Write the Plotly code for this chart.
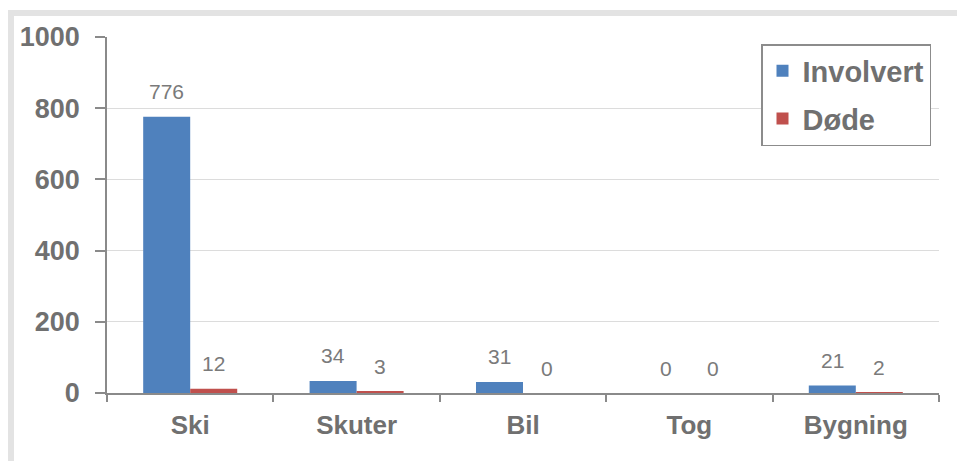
import plotly.graph_objects as go

categories = ["Ski", "Skuter", "Bil", "Tog", "Bygning"]
involvert = [776, 34, 31, 0, 21]
dode = [12, 3, 0, 0, 2]
series_names = ["Involvert", "Døde"]
y_ticks = [0, 200, 400, 600, 800, 1000]

W, H = 957, 461
L, R, T, B = 107, 18, 37, 68
pw, ph = W - L - R, H - T - B

def px_x(p):
    return (p - L) / pw

def px_y(p):
    return (H - B - p) / ph

FONT = "Liberation Sans, Arial, sans-serif"
GRAY = "#707070"
BLUE = "#4F81BD"
RED = "#C0504D"

fig = go.Figure()
fig.add_trace(go.Bar(x=categories, y=involvert, name=series_names[0],
                     marker=dict(color=BLUE, line=dict(width=0)), legendgroup="a"))
fig.add_trace(go.Bar(x=categories, y=dode, name=series_names[1],
                     marker=dict(color=RED, line=dict(width=0)), legendgroup="b"))

annotations = []
for vals, shift in ((involvert, -23.5), (dode, 23.5)):
    for c, v in zip(categories, vals):
        annotations.append(dict(x=c, y=v, xref="x", yref="y", text=str(v),
                                showarrow=False, xshift=shift, yshift=25,
                                yanchor="middle",
                                font=dict(family=FONT, size=21, color="#7a7a7a")))

shapes = [
    dict(type="rect", xref="paper", yref="paper",
         x0=px_x(8), x1=px_x(960), y0=px_y(16), y1=px_y(10),
         fillcolor="#e3e3e3", line=dict(width=0), layer="below"),
    dict(type="rect", xref="paper", yref="paper",
         x0=px_x(8), x1=px_x(14), y0=px_y(465), y1=px_y(10),
         fillcolor="#e3e3e3", line=dict(width=0), layer="below"),
]

fig.update_layout(
    width=W, height=H,
    margin=dict(l=L, r=R, t=T, b=B, pad=0),
    paper_bgcolor="white", plot_bgcolor="white",
    barmode="group", bargap=0.435, bargroupgap=0,
    font=dict(family=FONT, color=GRAY),
    showlegend=True,
    legend=dict(x=px_x(931), y=px_y(44), xanchor="right", yanchor="top",
                bgcolor="white", bordercolor="#8c8c8c", borderwidth=1.5,
                font=dict(family=FONT, size=29, color=GRAY, weight="bold"),
                traceorder="grouped", tracegroupgap=7, itemwidth=30),
    annotations=annotations,
    shapes=shapes,
    xaxis=dict(type="category", showline=True, linecolor="#8a8a8a", linewidth=1.5,
               ticks="outside", tickson="boundaries", ticklen=7, tickcolor="#8a8a8a",
               tickwidth=1.5, showgrid=False, ticklabelstandoff=8,
               tickfont=dict(family=FONT, size=26, color=GRAY, weight="bold")),
    yaxis=dict(range=[0, 1000], tickvals=y_ticks, showline=True, linecolor="#8a8a8a",
               linewidth=1.5, ticks="outside", ticklen=10, tickcolor="#8a8a8a",
               tickwidth=1.5, showgrid=True, gridcolor="#dcdcdc", gridwidth=1,
               zeroline=False, ticklabelstandoff=10,
               tickfont=dict(family=FONT, size=27, color=GRAY, weight="bold")),
)

fig.write_html("out.html")
